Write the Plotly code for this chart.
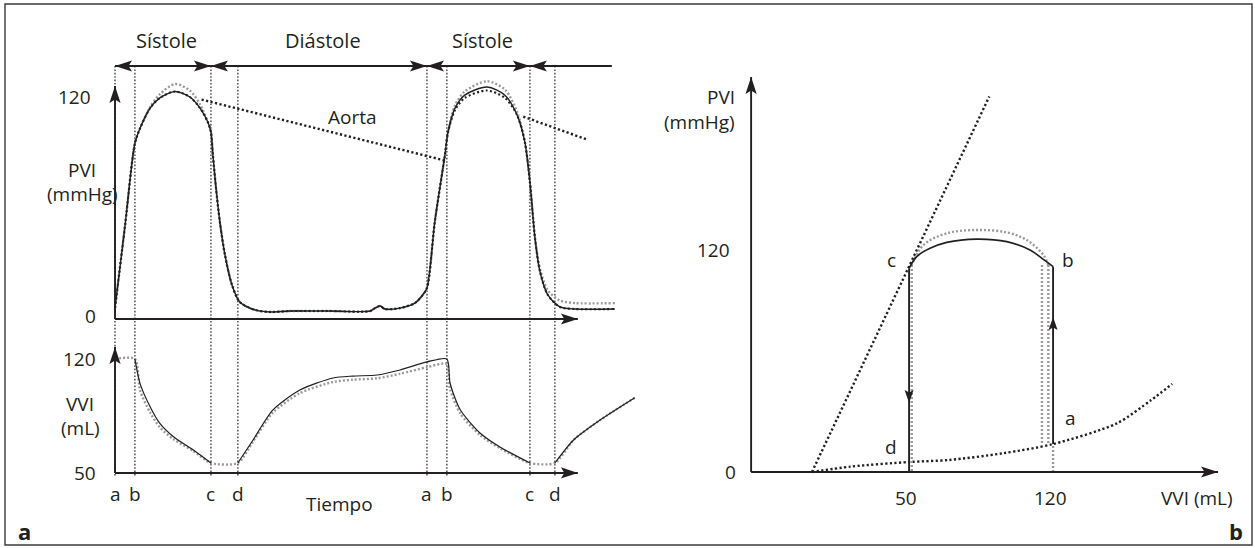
import plotly.graph_objects as go

W, H = 1255, 548
INK = '#231f20'
GREY = '#9a9a9a'
EVT = '#5a5a5a'
FONT = 'Open Sans'

# ---------------- Panel a: pressure / volume over time (ms) ----------------
event_t = [0, 51, 246, 315, 800, 851, 1064, 1128]
event_lbl = ['a', 'b', 'c', 'd', 'a', 'b', 'c', 'd']
phase_bounds = [0, 246, 800, 1064]
phase_lbl = ['Sístole', 'Diástole', 'Sístole']
phase_tail_end = 1274

t_pvi = [0, 26, 51, 64, 90, 115, 154, 192, 218, 238, 246, 251, 259, 269, 282,
         300, 320, 359, 397, 449, 550, 654, 667, 680, 692, 731, 769, 787, 800, 820,
         846, 854, 872, 897, 954, 1000, 1031, 1051, 1064, 1077, 1090, 1110, 1141, 1180, 1282]
pvi_main = [6, 51, 95, 103, 114, 119.5, 123, 120, 114, 106.5, 101, 88.6, 70.8, 52.4, 34.6,
            18.4, 9.2, 4.9, 3.8, 4.3, 4.3, 4.3, 5.9, 7.0, 5.4, 5.9, 8.6, 12.4, 16.8, 52.4,
            88.6, 101, 114, 121, 125.4, 121, 110.3, 95.7, 74.1, 43.8, 25.4, 13, 6.5, 5.4, 5.4]
pvi_model = [6, 51, 95, 103, 114, 119.5, 123, 120, 114, 106.5, 101, 88.6, 70.8, 52.4, 34.6,
             18.4, 9.2, 4.9, 3.8, 4.3, 4.3, 4.3, 5.9, 7.0, 5.4, 5.9, 8.6, 12.4, 16.8, 52.4,
             88.6, 101, 113, 119.5, 123.5, 119.5, 110.3, 95.7, 74.1, 43.8, 25.4, 13, 6.5, 5.4, 5.4]
pvi_alt = [6, 51, 95, 103, 114.5, 121.5, 127, 123.5, 116, 106.5, 101, 88.6, 70.8, 52.4, 34.6,
           18.4, 9.2, 4.9, 3.8, 4.3, 4.3, 4.3, 5.9, 7.0, 5.4, 5.9, 8.6, 12.4, 16.8, 52.4,
           88.6, 101, 115.5, 123, 128.5, 124, 112, 95.7, 74.1, 43.8, 27, 15.5, 10, 8.6, 8.6]

t_aorta_1 = [222, 851]
aorta_1 = [118.6, 85.4]
t_aorta_2 = [1047, 1213]
aorta_2 = [109.4, 96.8]

t_vvi = [0, 51, 64, 90, 115, 150, 201, 246, 315, 354, 405, 474, 559, 610, 672, 731, 800,
         851, 859, 885, 936, 987, 1064, 1128, 1176, 1244, 1333]
vvi_main = [120, 120, 103.6, 87.9, 76.7, 67.7, 58.7, 50, 50, 65.5, 85.7, 99.1, 107.2, 108.5,
            109.2, 112.6, 118, 120, 104, 86, 70.2, 60.8, 50, 50, 65.5, 78.9, 93.9]
vvi_alt = [120, 120, 99, 84, 74, 66, 58, 50, 50, 64.5, 84, 97, 104.5, 106, 107, 110, 114.5,
           116.6, 100, 83.5, 68.8, 60, 50, 50, 65.5, 78.9, 93.9]

pvi_ticks = [0, 120]
vvi_ticks = [50, 120]

# ---------------- Panel b: pressure-volume loop ----------------
arc_v = [120, 114, 108.8, 97.5, 82.9, 68.3, 60.2, 53.7, 50]
arc_p = [111, 116, 120, 124.5, 125.9, 124.1, 120.9, 116.4, 110]
ivc_v = [120, 120]          # isovolumic contraction a -> b
ivc_p = [15.1, 111]
ivr_v = [50, 50]            # isovolumic relaxation c -> d (drawn to the axis)
ivr_p = [110, 0]

alt_arc_v = [117.7, 115.3, 107.2, 97.5, 82.9, 68.3, 57, 51.3]
alt_arc_p = [111.9, 117.3, 125.4, 129.5, 130.8, 129, 122.7, 111.9]
alt_vert_v = [[117.7, 117.7], [114.6, 114.6], [51.3, 51.3], [120, 120]]
alt_vert_p = [[15.7, 111.9], [15.7, 113], [111.9, 0], [0, 15.1]]

edpvr_v = [2.8, 21.5, 50, 69.6, 95.5, 120, 151, 167.7, 177.9]
edpvr_p = [0, 2.9, 5.4, 6.5, 10.1, 15.1, 26.3, 38.9, 47.6]
espvr_v = [2.8, 89]
espvr_p = [0, 203]

loop_pts = {'a': (120, 15.1), 'b': (120, 111), 'c': (50, 110), 'd': (50, 5.4)}
pv_ticks_v = [50, 120]
pv_ticks_p = [0, 120]

# ---------------- axis geometry ----------------
T_RANGE = [-38.5, 1372]
PVI_RANGE = [-8.65, 142.7]
VVI_RANGE = [35.2, 134.1]
VVI_BASE = 43.3
T_AXIS_END = 1187
PVI_AXIS_TOP = 126
VVI_AXIS_TOP = 128
V_RANGE = [-32.2, 213.3]
P_RANGE = [-7.03, 225.4]
V_ORIGIN = -26.8
V_AXIS_END = 200.2
P_AXIS_TOP = 213.5

DOT_BLACK = dict(color=INK, width=2.4, dash='2.2px,2.4px')
DOT_GREY = dict(color=GREY, width=2.4, dash='2px,2px')


def px(x):
    return x / W


def py(y):
    return 1 - y / H


fig = go.Figure()

# panel a, pressure
fig.add_trace(go.Scatter(x=t_pvi, y=pvi_alt, mode='lines', xaxis='x', yaxis='y',
                         line=dict(**DOT_GREY, shape='spline', smoothing=0.8)))
fig.add_trace(go.Scatter(x=t_pvi, y=pvi_main, mode='lines', xaxis='x', yaxis='y',
                         line=dict(color=INK, width=1.4, shape='spline', smoothing=0.8)))
fig.add_trace(go.Scatter(x=t_pvi, y=pvi_model, mode='lines', xaxis='x', yaxis='y',
                         line=dict(color=INK, width=2.1, dash='2px,2.4px', shape='spline', smoothing=0.8)))
for tt, pp in ((t_aorta_1, aorta_1), (t_aorta_2, aorta_2)):
    fig.add_trace(go.Scatter(x=tt, y=pp, mode='lines', xaxis='x', yaxis='y', line=DOT_BLACK))

# panel a, volume: solid line only where the volume changes
sol_t, sol_v = [], []
for i, (tt, vv) in enumerate(zip(t_vvi, vvi_main)):
    if i > 0 and vv == vvi_main[i - 1]:
        sol_t.append(None)
        sol_v.append(None)
    sol_t.append(tt)
    sol_v.append(vv)
fig.add_trace(go.Scatter(x=t_vvi, y=vvi_alt, mode='lines', xaxis='x2', yaxis='y2',
                         line=dict(**DOT_GREY, shape='spline', smoothing=0.7)))
fig.add_trace(go.Scatter(x=sol_t, y=sol_v, mode='lines', xaxis='x2', yaxis='y2', connectgaps=False,
                         line=dict(color=INK, width=1.2, shape='spline', smoothing=0.7)))

# panel b
fig.add_trace(go.Scatter(x=edpvr_v, y=edpvr_p, mode='lines', xaxis='x3', yaxis='y3',
                         line=dict(**DOT_BLACK, shape='spline', smoothing=0.8)))
fig.add_trace(go.Scatter(x=espvr_v, y=espvr_p, mode='lines', xaxis='x3', yaxis='y3', line=DOT_BLACK))
fig.add_trace(go.Scatter(x=alt_arc_v, y=alt_arc_p, mode='lines', xaxis='x3', yaxis='y3',
                         line=dict(**DOT_GREY, shape='spline', smoothing=1)))
for vv, pp in zip(alt_vert_v, alt_vert_p):
    fig.add_trace(go.Scatter(x=vv, y=pp, mode='lines', xaxis='x3', yaxis='y3', line=DOT_GREY))
fig.add_trace(go.Scatter(x=arc_v, y=arc_p, mode='lines', xaxis='x3', yaxis='y3',
                         line=dict(color=INK, width=1.7, shape='spline', smoothing=1)))
for vv, pp in ((ivc_v, ivc_p), (ivr_v, ivr_p)):
    fig.add_trace(go.Scatter(x=vv, y=pp, mode='lines', xaxis='x3', yaxis='y3',
                             line=dict(color=INK, width=1.9)))

shapes = []
ann = []


def head(x, y, direction, xref, yref, L=17, w=5.6, notch=3.5):
    # filled arrowhead, sized in pixels, tip at (x, y)
    base = [(0, 0), (-L, w), (-L + notch, 0), (-L, -w)]
    if direction == 'right':
        pts = base
    elif direction == 'left':
        pts = [(-a, b) for a, b in base]
    elif direction == 'up':
        pts = [(b, a) for a, b in base]
    else:
        pts = [(b, -a) for a, b in base]
    path = 'M' + ' L'.join(f'{a},{b}' for a, b in pts) + ' Z'
    shapes.append(dict(type='path', xref=xref, yref=yref, xsizemode='pixel', ysizemode='pixel',
                       xanchor=x, yanchor=y, path=path, fillcolor=INK, line=dict(width=0)))


def seg(x0, y0, x1, y1, xref, yref, width=1.9, color=INK, dash='solid', layer='above'):
    shapes.append(dict(type='line', xref=xref, yref=yref, x0=x0, y0=y0, x1=x1, y1=y1,
                       line=dict(color=color, width=width, dash=dash), layer=layer))


def text(s, x, y, xref='paper', yref='paper', size=19, xanchor='center', yanchor='middle',
         xshift=0, yshift=0, bold=False):
    ann.append(dict(text=f'<b>{s}</b>' if bold else s, x=x, y=y, xref=xref, yref=yref,
                    showarrow=False, xanchor=xanchor, yanchor=yanchor, xshift=xshift, yshift=yshift,
                    font=dict(family=FONT, size=size, color=INK)))


# frame
shapes.append(dict(type='rect', xref='paper', yref='paper', x0=px(5), x1=px(1252), y0=py(545), y1=py(4),
                   line=dict(color='#3a3a3a', width=1.4), layer='below'))

# event markers across both time panels
for tt in event_t:
    seg(tt, py(66), tt, py(476), 'x', 'paper', width=1.6, color=EVT, dash='1.6px,1.8px', layer='below')

# phase arrows
yp = py(66)
for i in range(len(phase_bounds) - 1):
    a0, a1 = phase_bounds[i], phase_bounds[i + 1]
    seg(a0, yp, a1, yp, 'x', 'paper', width=2)
    head(a0, yp, 'left', 'x', 'paper')
    head(a1, yp, 'right', 'x', 'paper')
    text(phase_lbl[i], (a0 + a1) / 2, py(41), xref='x', size=20, xshift=4)
seg(phase_bounds[-1], yp, phase_tail_end, yp, 'x', 'paper', width=2)
head(phase_bounds[-1], yp, 'left', 'x', 'paper')

# panel a axes
seg(0, 0, T_AXIS_END, 0, 'x', 'y')
head(T_AXIS_END, 0, 'right', 'x', 'y')
seg(0, 0, 0, PVI_AXIS_TOP, 'x', 'y')
head(0, PVI_AXIS_TOP, 'up', 'x', 'y')
seg(0, VVI_BASE, T_AXIS_END, VVI_BASE, 'x2', 'y2')
head(T_AXIS_END, VVI_BASE, 'right', 'x2', 'y2')
seg(0, VVI_BASE, 0, VVI_AXIS_TOP, 'x2', 'y2')
head(0, VVI_AXIS_TOP, 'up', 'x2', 'y2')

text('120', 0, pvi_ticks[1], xref='x', yref='y', xanchor='right', xshift=-22)
text('0', 0, pvi_ticks[0], xref='x', yref='y', xanchor='right', xshift=-17, yshift=3)
text('PVI', px(82), py(170))
text('(mmHg)', px(82), py(194))
text('120', 0, vvi_ticks[1], xref='x2', yref='y2', xanchor='right', xshift=-17)
text('50', 0, vvi_ticks[0], xref='x2', yref='y2', xanchor='right', xshift=-17, yshift=-10)
text('VVI', px(80), py(404))
text('(mL)', px(80), py(428))
for tt, lb in zip(event_t, event_lbl):
    text(lb, tt, py(494), xref='x2')
text('Tiempo', px(339), py(504), size=19)
text('Aorta', 610, 109, xref='x', yref='y', size=19)
text('a', px(24), py(531), size=22, bold=True)

# panel b axes
seg(V_ORIGIN, 0, V_AXIS_END, 0, 'x3', 'y3')
head(V_AXIS_END, 0, 'right', 'x3', 'y3')
seg(V_ORIGIN, 0, V_ORIGIN, P_AXIS_TOP, 'x3', 'y3')
head(V_ORIGIN, P_AXIS_TOP, 'up', 'x3', 'y3')
head(loop_pts['d'][0], 37.3, 'down', 'x3', 'y3', L=13, w=4.5, notch=2.5)
head(loop_pts['a'][0], 83.8, 'up', 'x3', 'y3', L=13, w=4.5, notch=2.5)

text('120', V_ORIGIN, pv_ticks_p[1], xref='x3', yref='y3', xanchor='right', xshift=-19)
text('0', V_ORIGIN, pv_ticks_p[0], xref='x3', yref='y3', xanchor='right', xshift=-13)
for vv in pv_ticks_v:
    text(str(vv), vv, py(498), xref='x3', xshift=-3)
text('VVI (mL)', px(1197), py(498))
text('PVI', px(737), py(97), xanchor='right')
text('(mmHg)', px(737), py(122), xanchor='right')
for key, (dx, dy) in {'c': (-18, 8), 'b': (15, 7), 'd': (-18, 15), 'a': (17, 26)}.items():
    vx, pv = loop_pts[key]
    text(key, vx, pv, xref='x3', yref='y3', xshift=dx, yshift=dy)
text('b', px(1236), py(531), size=22, bold=True)

hidden = dict(visible=False, fixedrange=True)
fig.update_layout(
    width=W, height=H, margin=dict(l=0, r=0, t=0, b=0),
    paper_bgcolor='white', plot_bgcolor='rgba(0,0,0,0)', showlegend=False,
    xaxis=dict(domain=[px(100), px(650)], range=T_RANGE, anchor='y', **hidden),
    yaxis=dict(domain=[py(335), py(55)], range=PVI_RANGE, anchor='x', **hidden),
    xaxis2=dict(domain=[px(100), px(650)], range=T_RANGE, anchor='y2', **hidden),
    yaxis2=dict(domain=[py(485), py(338)], range=VVI_RANGE, anchor='x2', **hidden),
    xaxis3=dict(domain=[px(740), px(1245)], range=V_RANGE, anchor='y3', **hidden),
    yaxis3=dict(domain=[py(485), py(55)], range=P_RANGE, anchor='x3', **hidden),
    shapes=shapes, annotations=ann,
)

fig.write_html('out.html')
